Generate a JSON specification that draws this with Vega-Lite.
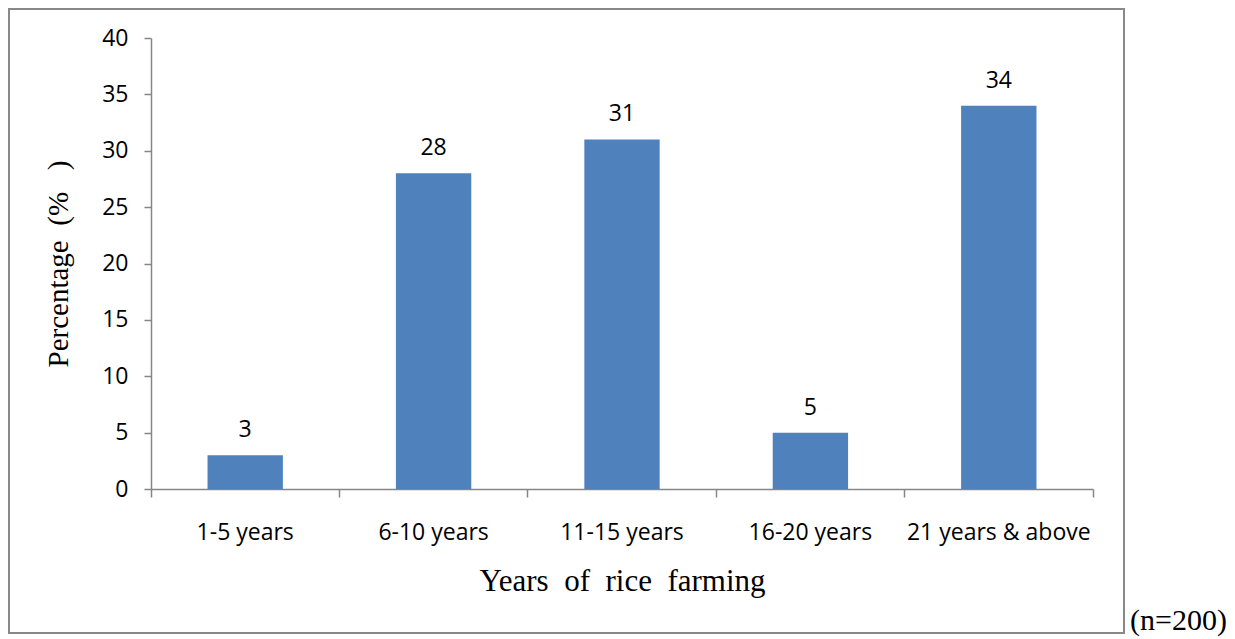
{
  "$schema": "https://vega.github.io/schema/vega-lite/v6.json",
  "width": 1115,
  "height": 624,
  "autosize": {"type": "none"},
  "padding": {"left": 9, "top": 9, "right": 111, "bottom": 6},
  "background": "white",
  "config": {
    "view": {"stroke": "#898989", "strokeWidth": 2},
    "axis": {"grid": false}
  },
  "title": {
    "text": "(n=200)",
    "orient": "bottom",
    "anchor": "end",
    "frame": "group",
    "align": "left",
    "baseline": "alphabetic",
    "offset": -3,
    "dx": 6,
    "font": "Liberation Serif",
    "fontSize": 30,
    "fontWeight": "normal",
    "color": "black"
  },
  "data": {
    "values": [
      {"category": "1-5 years", "value": 3},
      {"category": "6-10 years", "value": 28},
      {"category": "11-15 years", "value": 31},
      {"category": "16-20 years", "value": 5},
      {"category": "21 years & above", "value": 34}
    ]
  },
  "encoding": {
    "x": {
      "field": "category",
      "type": "nominal",
      "sort": null,
      "scale": {"range": [142, 1084], "paddingInner": 0, "paddingOuter": 0},
      "axis": {
        "orient": "bottom",
        "offset": -144,
        "labelAngle": 0,
        "labelLimit": 400,
        "bandPosition": 1,
        "tickExtra": true,
        "tickSize": 8,
        "tickColor": "#868686",
        "tickWidth": 1.5,
        "domainColor": "#868686",
        "domainWidth": 1.5,
        "labelFont": "Open Sans",
        "labelFontSize": 23,
        "labelColor": "black",
        "labelPadding": 24,
        "title": "Years\u00a0 of\u00a0 rice\u00a0 farming",
        "titleFont": "Liberation Serif",
        "titleFontSize": 31,
        "titleFontWeight": "normal",
        "titleColor": "black",
        "titlePadding": 22
      }
    },
    "y": {
      "field": "value",
      "type": "quantitative",
      "scale": {"domain": [0, 40], "range": [480, 29], "nice": false, "zero": true},
      "axis": {
        "orient": "left",
        "offset": -142,
        "values": [0, 5, 10, 15, 20, 25, 30, 35, 40],
        "tickSize": 7,
        "tickColor": "#868686",
        "tickWidth": 1.5,
        "domainColor": "#868686",
        "domainWidth": 1.5,
        "labelFont": "Open Sans",
        "labelFontSize": 23,
        "labelColor": "black",
        "labelPadding": 16,
        "title": "Percentage\u00a0\u00a0(%\u00a0\u00a0\u00a0)",
        "titleFont": "Liberation Serif",
        "titleFontSize": 29,
        "titleFontWeight": "normal",
        "titleColor": "black",
        "titlePadding": 28
      }
    }
  },
  "layer": [
    {
      "mark": {"type": "bar", "color": "#4F81BD", "width": {"band": 0.4}}
    },
    {
      "mark": {
        "type": "text",
        "font": "Open Sans",
        "fontSize": 23,
        "color": "black",
        "baseline": "alphabetic",
        "dy": -18
      },
      "encoding": {"text": {"field": "value", "type": "quantitative"}}
    }
  ]
}
